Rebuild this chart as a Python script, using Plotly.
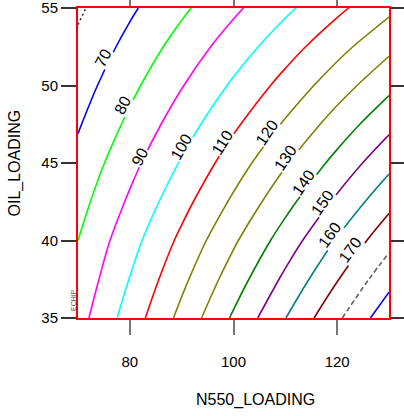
import plotly.graph_objects as go

# Response surface: OIL_LOADING (rows) x N550_LOADING (columns)
n550_loading = [70, 80, 90, 100, 110, 120, 130]
oil_loading = [35, 37.5, 40, 42.5, 45, 47.5, 50, 52.5, 55]
response = [
    [86.1, 104.5, 122.9, 141.4, 159.8, 178.2, 196.6],
    [83.0, 100.3, 117.6, 134.9, 152.1, 169.4, 186.7],
    [80.0, 96.2, 112.3, 128.5, 144.6, 160.8, 176.9],
    [76.4, 91.5, 106.6, 121.7, 136.8, 151.9, 167.0],
    [72.8, 86.9, 100.9, 115.0, 129.1, 143.1, 157.2],
    [69.1, 82.1, 95.2, 108.2, 121.2, 134.3, 147.3],
    [65.5, 77.5, 89.5, 101.5, 113.4, 125.4, 137.4],
    [62.0, 72.9, 83.9, 94.8, 105.7, 116.7, 127.6],
    [58.5, 68.4, 78.2, 88.1, 98.0, 107.8, 117.7],
]

levels = [60, 70, 80, 90, 100, 110, 120, 130, 140, 150, 160, 170, 180, 190]
level_colors = ["#333333", "#0000ff", "#00ff00", "#ff00ff", "#00ffff", "#ff0000",
                "#808000", "#808000", "#008000", "#800080", "#008080", "#800000",
                "#606060", "#0000ff"]
level_dashes = ["2px,3px", "solid", "solid", "solid", "solid", "solid", "solid",
                "solid", "solid", "solid", "solid", "solid", "5px,3px", "solid"]

# Labelled levels and where their labels sit (x, y in data units, angle)
label_levels = [70, 80, 90, 100, 110, 120, 130, 140, 150, 160, 170]
label_x = [74.9, 78.6, 82.0, 90.0, 97.8, 106.4, 110.1, 113.5, 117.2, 118.6, 122.6]
label_y = [51.8, 48.7, 45.4, 46.05, 46.35, 47.0, 45.35, 43.75, 42.45, 40.4, 39.4]
label_angle = [-63, -63, -63, -60, -58, -56, -56, -55, -55, -54, -54]

fig = go.Figure()
for lv, col, dash in zip(levels, level_colors, level_dashes):
    fig.add_trace(go.Contour(
        x=n550_loading, y=oil_loading, z=response,
        autocontour=False,
        contours=dict(start=lv, end=lv, size=10, coloring="none"),
        line=dict(color=col, width=1.6, dash=dash),
        showscale=False, hoverinfo="skip",
    ))

for lv, lx, ly, ang in zip(label_levels, label_x, label_y, label_angle):
    fig.add_annotation(x=lx, y=ly, text=str(lv), showarrow=False, textangle=ang,
                       font=dict(size=16, color="black", family="Liberation Sans, Arial"),
                       bgcolor="white", borderpad=0)

axis_common = dict(
    showgrid=False, zeroline=False, ticks="outside", ticklen=15, tickwidth=1.5,
    showline=True, linecolor="#ff0000", linewidth=2, mirror="ticks", automargin=False,
    ticklabeloverflow="allow",
    tickfont=dict(size=15, color="black", family="Liberation Sans, Arial"),
)

fig.update_xaxes(range=[70, 130], tickvals=[80, 100, 120], tickcolor="#777777",
                 ticklabelstandoff=14, **axis_common)
fig.update_yaxes(range=[35, 55], tickvals=[35, 40, 45, 50, 55], tickcolor="#333333",
                 **axis_common)

fig.add_annotation(xref="paper", yref="paper", x=0.572, y=-0.2645, text="N550_LOADING",
                   showarrow=False, xanchor="center", yanchor="middle",
                   font=dict(size=16, color="black", family="Liberation Sans, Arial"))
fig.add_annotation(xref="paper", yref="paper", x=-0.201, y=0.5, text="OIL_LOADING",
                   showarrow=False, textangle=-90, xanchor="center", yanchor="middle",
                   font=dict(size=16, color="black", family="Liberation Sans, Arial"))
fig.add_annotation(xref="paper", yref="paper", x=-0.0161, y=0.058, text="ECHIP",
                   showarrow=False, textangle=-90, xanchor="center", yanchor="middle",
                   font=dict(size=7, color="#555555", family="Liberation Sans, Arial"))

fig.update_layout(
    width=404, height=416,
    margin=dict(l=78, r=15, t=8, b=98, autoexpand=False),
    plot_bgcolor="white", paper_bgcolor="white",
    showlegend=False,
)

fig.write_html("out.html")
